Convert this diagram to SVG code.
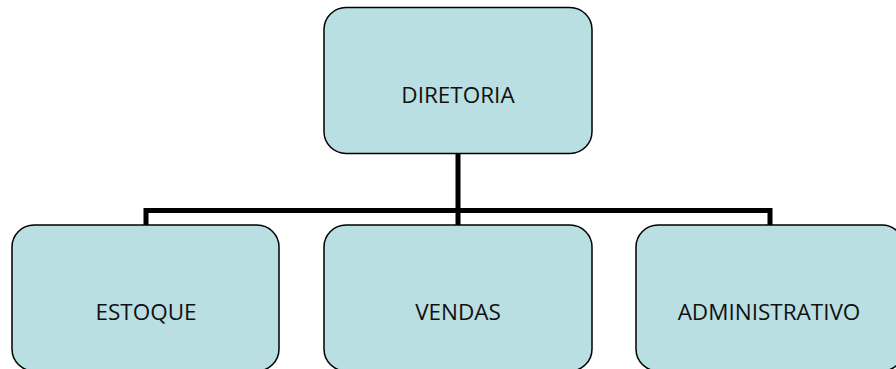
<svg xmlns="http://www.w3.org/2000/svg" width="896" height="369" viewBox="0 0 896 369">
<style>
.box{fill:#b9dfe3;stroke:#000;stroke-width:1.5}
.lbl{font-family:"Open Sans","Liberation Sans",sans-serif;font-size:22.5px;fill:#111;text-anchor:middle}
.conn{fill:none;stroke:#000;stroke-width:5}
</style>
<rect width="896" height="369" fill="#fff"/>
<g id="connectors">
<line class="conn" x1="458" y1="153" x2="458" y2="225"/>
<polyline class="conn" points="146,225 146,210.5 770,210.5 770,225"/>
</g>
<g id="diretoria">
<rect class="box" x="324" y="7.5" width="268" height="146" rx="22"/>
<text class="lbl" x="458" y="103">DIRETORIA</text>
</g>
<g id="estoque">
<rect class="box" x="12" y="225" width="267" height="146" rx="22"/>
<text class="lbl" x="146" y="320">ESTOQUE</text>
</g>
<g id="vendas">
<rect class="box" x="324" y="225" width="268" height="146" rx="22"/>
<text class="lbl" x="458" y="320">VENDAS</text>
</g>
<g id="administrativo">
<rect class="box" x="636" y="225" width="268" height="146" rx="22"/>
<text class="lbl" x="769" y="320">ADMINISTRATIVO</text>
</g>
</svg>
